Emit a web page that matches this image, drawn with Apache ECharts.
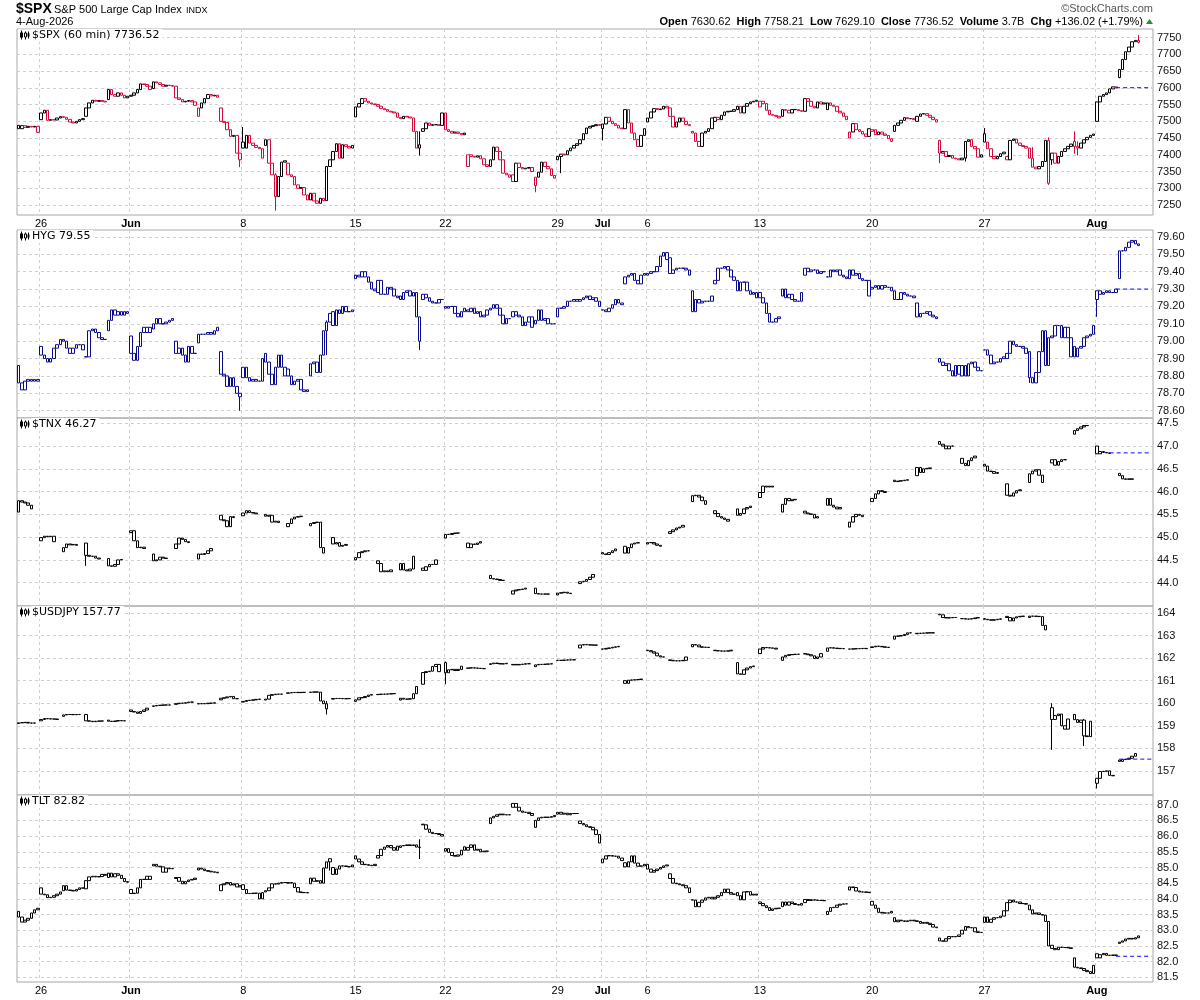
<!DOCTYPE html>
<html><head><meta charset="utf-8">
<script src="https://cdn.jsdelivr.net/npm/echarts@6/dist/echarts.min.js"></script>
<style>html,body{margin:0;padding:0;background:#fff}#c{width:1200px;height:1000px}</style>
</head><body><div id="c"></div>
<script>
// ---------- DATA ----------
const tradingDays = ['05-22','05-26','05-27','05-28','05-29','06-01','06-02','06-03','06-04','06-05','06-08','06-09','06-10','06-11','06-12','06-15','06-16','06-17','06-18','06-22','06-23','06-24','06-25','06-26','06-29','06-30','07-01','07-02','07-06','07-07','07-08','07-09','07-10','07-13','07-14','07-15','07-16','07-17','07-20','07-21','07-22','07-23','07-24','07-27','07-28','07-29','07-30','07-31','08-03','08-04'];
const barTimes = ['09:30','10:30','11:30','12:30','13:30','14:30','15:30'];
const xTickDays = ['05-26','06-01','06-08','06-15','06-22','06-29','07-01','07-06','07-13','07-20','07-27','08-03'];
const xTickLabels = ['26','Jun','8','15','22','29','Jul','6','13','20','27','Aug'];
const monthLabels = ['Jun','Jul','Aug'];

// each day: [open, close of bar1, close of bar2, ...]
const spxDays = [
[7488,7478,7487,7482,7485,7483,7485,7467],[7505,7525,7533,7503,7505,7504,7510,7514],[7514,7512,7506,7498,7495,7500,7505,7508],
[7515,7540,7555,7563,7560,7562,7560,7558],[7565,7595,7580,7575,7585,7578,7570,7575],[7575,7578,7585,7595,7612,7610,7605,7595],
[7598,7618,7615,7610,7605,7608,7607,7605],[7605,7570,7565,7558,7560,7562,7558,7548],[7515,7540,7555,7568,7580,7576,7578,7572],
[7540,7500,7497,7475,7455,7458,7405,7385],[7438,7420,7458,7435,7428,7422,7418,7390],[7428,7445,7375,7340,7275,7335,7378,7382],
[7375,7340,7335,7310,7300,7302,7280,7265],[7265,7285,7262,7255,7270,7263,7365,7385],[7385,7410,7433,7390,7430,7425,7420,7428],
[7513,7543,7553,7568,7560,7555,7552,7550],[7550,7545,7538,7535,7530,7528,7525,7512],[7512,7508,7515,7513,7510,7470,7420,7430],
[7470,7478,7495,7488,7490,7490,7488,7525],[7525,7475,7470,7465,7468,7464,7460,7465],[7365,7400,7395,7393,7397,7388,7370,7365],
[7365,7385,7423,7410,7385,7345,7340,7333],[7340,7320,7375,7362,7358,7360,7362,7350],[7308,7333,7348,7378,7365,7358,7338,7330],
[7385,7395,7402,7400,7412,7420,7428,7433],[7433,7445,7463,7480,7485,7487,7490,7488],[7478,7492,7512,7500,7493,7488,7480,7478],
[7478,7535,7495,7465,7445,7425,7458,7478],[7498,7510,7528,7538,7535,7537,7545,7540],[7540,7515,7483,7498,7510,7500,7490,7487],
[7470,7465,7440,7425,7465,7470,7478,7510],[7500,7512,7505,7518,7528,7530,7530,7535],[7535,7545,7525,7545,7553,7558,7560,7563],
[7543,7560,7553,7533,7520,7518,7515,7510],[7515,7535,7533,7525,7535,7535,7532,7530],[7530,7568,7560,7545,7540,7558,7552,7555],
[7535,7555,7548,7545,7530,7525,7515,7505],[7450,7468,7493,7475,7470,7462,7455,7478],[7470,7475,7460,7468,7462,7458,7448,7440],
[7470,7488,7495,7503,7511,7508,7508,7505],[7500,7515,7522,7523,7518,7512,7505,7498],[7443,7405,7410,7395,7398,7390,7388,7385],
[7385,7390,7440,7445,7425,7418,7393,7400],[7463,7438,7418,7395,7388,7395,7403,7408],[7395,7385,7443,7447,7435,7428,7425,7420],
[7420,7390,7363,7358,7365,7380,7443,7315],[7385,7405,7375,7395,7410,7418,7425,7432],[7440,7425,7420,7435,7445,7452,7458,7462],
[7500,7558,7575,7580,7585,7597,7603,7600.5],[7630.62,7655,7685,7708,7722,7738,7742,7736.52]];

const hygDays = [
[78.86,78.76,78.72,78.77,78.78,78.77,78.78,78.77],[78.97,78.92,78.90,78.88,78.90,78.96,78.98,79.01],[79.01,79.00,78.96,78.93,78.96,78.98,78.98,78.95],
[78.91,78.91,79.06,79.07,79.05,79.02,79.01,79.01],[79.06,79.12,79.18,79.15,79.17,79.15,79.17,79.16],[79.03,78.93,78.89,78.97,79.05,79.08,79.05,79.08],
[79.07,79.10,79.13,79.10,79.10,79.11,79.12,79.13],[79.00,78.93,78.96,78.92,78.88,78.97,78.93,78.93],[78.99,79.04,79.04,79.04,79.05,79.04,79.06,79.08],
[78.94,78.81,78.80,78.74,78.79,78.74,78.70,78.68],[78.79,78.85,78.79,78.77,78.78,78.77,78.77,78.90],[78.93,78.88,78.81,78.75,78.85,78.92,78.85,78.80],
[78.84,78.80,78.75,78.77,78.78,78.72,78.71,78.72],[78.80,78.87,78.88,78.82,78.92,79.06,79.11,79.16],[79.17,79.09,79.18,79.16,79.20,79.17,79.17,79.18],
[79.36,79.38,79.37,79.40,79.37,79.34,79.30,79.29],[79.28,79.35,79.27,79.27,79.31,79.30,79.26,79.25],[79.26,79.24,79.28,79.29,79.26,79.28,79.14,79.00],
[79.24,79.27,79.25,79.23,79.22,79.22,79.24,79.24],[79.20,79.19,79.20,79.20,79.16,79.14,79.17,79.19],[79.18,79.17,79.19,79.16,79.17,79.14,79.15,79.18],
[79.18,79.19,79.21,79.19,79.15,79.10,79.13,79.13],[79.14,79.17,79.15,79.14,79.09,79.11,79.14,79.08],[79.10,79.12,79.18,79.12,79.13,79.10,79.10,79.10],
[79.14,79.19,79.19,79.20,79.23,79.23,79.24,79.23],[79.23,79.24,79.25,79.26,79.24,79.25,79.23,79.20],[79.18,79.18,79.17,79.19,79.21,79.24,79.22,79.21],
[79.33,79.37,79.38,79.39,79.35,79.33,79.38,79.39],[79.38,79.39,79.40,79.40,79.43,79.49,79.51,79.47],[79.48,79.39,79.41,79.42,79.42,79.42,79.41,79.38],
[79.29,79.17,79.24,79.22,79.23,79.23,79.23,79.26],[79.33,79.35,79.42,79.42,79.43,79.41,79.37,79.35],[79.35,79.29,79.34,79.34,79.29,79.27,79.28,79.25],
[79.28,79.25,79.22,79.16,79.11,79.11,79.13,79.14],[79.26,79.30,79.25,79.27,79.24,79.23,79.23,79.28],[79.38,79.42,79.40,79.41,79.41,79.39,79.40,79.40],
[79.37,79.37,79.41,79.40,79.41,79.38,79.37,79.36],[79.36,79.41,79.38,79.39,79.36,79.35,79.35,79.26],[79.30,79.31,79.32,79.30,79.32,79.31,79.31,79.29],
[79.29,79.24,79.24,79.28,79.27,79.26,79.26,79.25],[79.22,79.14,79.16,79.16,79.17,79.15,79.14,79.13],[78.90,78.88,78.86,78.87,78.83,78.80,78.86,78.81],
[78.80,78.86,78.80,78.87,78.88,78.85,78.83,78.83],[78.95,78.95,78.92,78.87,78.88,78.88,78.90,78.91],[78.90,78.93,79.00,78.98,78.97,78.97,78.96,78.93],
[78.94,78.79,78.76,78.82,78.94,79.06,78.86,79.02],[79.02,79.03,79.09,79.09,79.02,79.08,79.02,78.91],[78.97,78.91,78.96,78.97,79.02,79.03,79.04,79.09],
[79.24,79.29,79.27,79.28,79.29,79.28,79.28,79.30],[79.36,79.52,79.52,79.54,79.57,79.58,79.56,79.55]];

const tnxDays = [
[45.55,45.80,45.77,45.75,45.70,45.62],[44.92,44.99,45.02,45.01,45.02,44.90],[44.68,44.77,44.85,44.83,44.84,44.82],
[44.87,44.60,44.58,44.58,44.54,44.52],[44.53,44.37,44.36,44.40,44.50,44.51],[45.10,45.14,44.92,44.77,44.78,44.75],
[44.63,44.48,44.50,44.56,44.54,44.53],[44.75,44.85,44.98,44.95,44.90,44.88],[44.52,44.63,44.62,44.64,44.70,44.75],
[45.48,45.38,45.36,45.23,45.45,45.43],[45.47,45.53,45.58,45.54,45.53,45.51],[45.50,45.46,45.48,45.33,45.35,45.32],
[45.23,45.30,45.40,45.44,45.45,45.46],[45.25,45.30,45.32,45.33,44.77,44.65],[44.99,44.85,44.88,44.80,44.82,44.84],
[44.50,44.55,44.66,44.68,44.70,44.70],[44.48,44.42,44.24,44.26,44.24,44.28],[44.28,44.42,44.28,44.26,44.30,44.58],
[44.32,44.27,44.35,44.40,44.40,44.50],[44.98,45.06,45.06,45.08,45.09,45.09],[44.87,44.77,44.85,44.84,44.87,44.90],
[44.16,44.09,44.08,44.07,44.05,44.05],[43.75,43.82,43.84,43.85,43.86,43.88],[43.88,43.76,43.75,43.75,43.75,43.75],
[43.73,43.77,43.78,43.79,43.77,43.76],[43.98,44.02,44.03,44.07,44.12,44.18],[44.66,44.63,44.62,44.66,44.70,44.74],
[44.80,44.65,44.77,44.85,44.87,44.88],[44.85,44.88,44.88,44.85,44.82,44.80],[45.08,45.12,45.16,45.20,45.22,45.26],
[45.78,45.91,45.92,45.88,45.80,45.72],[45.58,45.52,45.45,45.42,45.39,45.35],[45.62,45.48,45.52,45.62,45.65,45.68],
[45.87,45.98,46.12,46.10,46.12,46.10],[45.55,45.72,45.85,45.80,45.82,45.83],[45.57,45.53,45.51,45.50,45.42,45.45],
[45.70,45.85,45.70,45.66,45.62,45.65],[45.22,45.33,45.45,45.50,45.48,45.45],[45.78,45.85,45.95,46.02,46.00,45.98],
[46.25,46.22,46.23,46.24,46.25,46.26],[46.35,46.53,46.42,46.50,46.51,46.52],[47.10,47.04,47.00,46.94,47.00,47.00],
[46.73,46.62,46.57,46.68,46.74,46.78],[46.60,46.56,46.45,46.44,46.40,46.42],[46.17,45.92,45.90,45.97,46.02,46.04],
[46.20,46.39,46.45,46.48,46.36,46.20],[46.63,46.70,46.58,46.66,46.70,46.70],[47.26,47.34,47.38,47.42,47.45,47.45],
[47.00,46.83,46.88,46.86,46.85,46.84],[46.40,46.35,46.28,46.27,46.28,46.27]];

const usdjpyDays = [
[159.10,159.13,159.14,159.15,159.12,159.12,159.12],[159.22,159.28,159.32,159.31,159.30,159.30,159.28],[159.42,159.48,159.50,159.50,159.49,159.50,159.50],
[159.50,159.22,159.20,159.18,159.20,159.21,159.21],[159.25,159.20,159.19,159.21,159.23,159.22,159.22],[159.70,159.63,159.61,159.55,159.63,159.70,159.78],
[159.86,159.88,159.90,159.91,159.92,159.92,159.92],[159.95,159.98,160.00,160.00,160.02,160.05,160.05],[159.97,159.98,159.98,159.98,160.00,160.00,160.02],
[160.15,160.22,160.24,160.28,160.30,160.20,160.20],[160.05,160.08,160.12,160.13,160.15,160.17,160.18],[160.14,160.18,160.35,160.38,160.40,160.40,160.40],
[160.44,160.46,160.47,160.48,160.47,160.48,160.48],[160.48,160.49,160.50,160.49,160.10,159.98,159.75],[160.18,160.21,160.21,160.21,160.20,160.20,160.21],
[160.08,160.15,160.24,160.25,160.30,160.36,160.38],[160.38,160.39,160.40,160.40,160.41,160.42,160.43],[160.14,160.22,160.18,160.18,160.20,160.42,160.74],
[160.84,161.36,161.40,161.42,161.63,161.72,161.40],[161.80,161.35,161.48,161.50,161.45,161.50,161.64],[161.55,161.56,161.57,161.56,161.55,161.54,161.53],
[161.72,161.75,161.78,161.76,161.74,161.75,161.77],[161.70,161.72,161.70,161.72,161.73,161.75,161.75],[161.62,161.70,161.72,161.72,161.73,161.74,161.75],
[161.90,161.90,161.90,161.91,161.92,161.92,161.93],[162.45,162.58,162.60,162.59,162.58,162.58,162.57],[162.40,162.40,162.43,162.45,162.48,162.50,162.52],
[161.00,160.88,161.02,161.03,161.04,161.05,161.07],[162.35,162.33,162.28,162.22,162.10,162.05,162.05],[161.92,161.90,161.88,161.88,161.88,161.90,162.05],
[162.50,162.60,162.58,162.50,162.48,162.48,162.47],[162.35,162.33,162.32,162.31,162.31,162.32,162.35],[161.80,161.30,161.28,161.48,161.56,161.62,161.65],
[162.20,162.40,162.47,162.46,162.45,162.44,162.40],[161.90,162.05,162.12,162.15,162.16,162.17,162.17],[162.20,162.18,162.15,162.10,161.98,162.05,162.20],
[162.30,162.45,162.46,162.44,162.43,162.42,162.42],[162.40,162.40,162.41,162.42,162.42,162.43,162.42],[162.47,162.50,162.53,162.52,162.50,162.48,162.47],
[162.84,162.97,162.98,163.00,163.05,163.12,163.12],[163.08,163.10,163.10,163.11,163.12,163.12,163.12],[163.95,163.92,163.80,163.78,163.79,163.80,163.80],
[163.75,163.75,163.73,163.73,163.75,163.78,163.80],[163.75,163.72,163.70,163.68,163.70,163.72,163.74],[163.85,163.80,163.65,163.78,163.83,163.85,163.86],
[163.80,163.86,163.86,163.85,163.84,163.45,163.25],[159.80,159.28,159.45,159.52,159.00,158.85,159.30],[159.50,159.27,159.15,159.25,158.55,158.52,159.20],
[156.45,156.67,156.97,156.98,157.00,156.80,156.78],[157.48,157.42,157.50,157.52,157.56,157.65,157.77]];

const tltDays = [
[83.60,83.42,83.26,83.32,83.38,83.55,83.65,83.70],[84.35,84.15,84.13,84.04,84.05,84.10,84.15,84.22],[84.26,84.42,84.28,84.27,84.25,84.30,84.35,84.34],
[84.32,84.58,84.70,84.72,84.70,84.71,84.78,84.75],[84.68,84.82,84.70,84.80,84.75,84.65,84.55,84.53],[84.30,84.17,84.18,84.35,84.62,84.62,84.72,84.62],
[85.05,85.10,85.04,85.02,84.85,84.98,84.96,84.97],[84.65,84.68,84.56,84.48,84.55,84.60,84.62,84.66],[84.92,84.98,84.95,84.90,84.88,84.86,84.85,84.83],
[84.26,84.45,84.48,84.52,84.44,84.48,84.38,84.42],[84.45,84.30,84.17,84.17,84.18,84.18,84.00,84.20],[84.22,84.26,84.35,84.48,84.47,84.50,84.52,84.52],
[84.50,84.52,84.50,84.36,84.22,84.20,84.20,84.19],[84.48,84.66,84.56,84.58,84.50,84.98,85.18,85.28],[85.00,84.78,84.95,85.05,85.05,85.03,85.02,85.08],
[85.37,85.27,85.18,85.10,85.09,85.07,85.06,85.10],[85.30,85.38,85.58,85.65,85.70,85.63,85.55,85.68],[85.64,85.69,85.70,85.72,85.70,85.72,85.65,85.64],
[86.38,86.36,86.22,86.12,86.08,86.08,86.05,86.00],[85.52,85.60,85.48,85.38,85.36,85.40,85.55,85.66],[85.55,85.64,85.72,85.55,85.58,85.50,85.52,85.52],
[86.40,86.58,86.63,86.68,86.70,86.68,86.68,86.68],[86.92,87.04,86.92,86.80,86.76,86.76,86.72,86.66],[86.28,86.50,86.58,86.60,86.60,86.60,86.62,86.66],
[86.70,86.76,86.70,86.73,86.68,86.72,86.72,86.72],[86.48,86.40,86.36,86.30,86.28,86.20,86.05,85.78],[85.15,85.27,85.37,85.38,85.36,85.36,85.30,85.22],
[85.15,85.02,85.18,85.37,85.14,85.04,85.05,85.10],[85.10,84.95,84.85,84.90,84.95,85.00,85.05,85.08],[84.80,84.65,84.50,84.48,84.45,84.42,84.35,84.20],
[83.97,83.96,83.75,83.89,83.96,84.03,84.05,84.00],[84.00,84.05,84.10,84.20,84.31,84.20,84.15,84.15],[84.20,84.10,83.97,84.22,84.23,84.12,84.15,84.12],
[83.90,83.85,83.78,83.72,83.63,83.68,83.70,83.70],[83.75,83.90,83.80,83.90,83.85,83.82,83.80,83.85],[83.88,83.98,83.95,83.97,83.96,83.95,83.95,83.94],
[83.50,83.60,83.72,83.73,83.80,83.83,83.84,83.84],[84.28,84.38,84.36,84.25,84.22,84.22,84.21,84.20],[83.92,83.80,83.70,83.57,83.55,83.55,83.55,83.60],
[83.40,83.27,83.32,83.30,83.28,83.30,83.32,83.30],[83.30,83.28,83.22,83.25,83.22,83.18,83.10,83.08],[82.75,82.66,82.65,82.73,82.80,82.79,82.80,82.85],
[82.88,83.00,83.12,83.08,83.08,82.95,82.93,82.93],[83.25,83.42,83.25,83.35,83.40,83.40,83.45,83.62],[83.62,83.88,83.96,83.90,83.90,83.85,83.85,83.83],
[83.80,83.65,83.52,83.55,83.50,83.48,83.28,82.50],[82.52,82.42,82.38,82.46,82.45,82.45,82.44,82.42],[82.12,81.82,81.80,81.78,81.72,81.68,81.62,81.88],
[82.25,82.12,82.22,82.26,82.20,82.20,82.21,82.20],[82.58,82.62,82.66,82.72,82.74,82.72,82.76,82.82]];

// notable wicks: [dayIndex, barIndex, low, high]
const spxWicks = [[9,6,7363,7405],[10,0,7438,7483],[11,3,7233,7345],[17,6,7398,7470],[23,0,7288,7333],[24,1,7345,7395],[26,0,7443,7492],[45,6,7310,7452],[47,1,7398,7440],[49,6,7733,7758.21],[49,0,7629.10,7655],[41,0,7375,7445],[42,1,7380,7395],[43,0,7438,7480],[45,1,7380,7423],[47,0,7403,7470],[46,0,7370,7405]];
const hygWicks = [[9,6,78.60,78.70],[17,6,78.95,79.14],[45,0,78.76,78.94],[48,0,79.14,79.29],[13,5,78.92,79.12]];
const tnxWicks = [[13,5,44.54,44.77],[17,5,44.30,44.78],[3,0,44.37,44.87],[45,5,46.08,46.36]];
const usdjpyWicks = [[46,0,157.93,160.00],[13,5,159.50,160.10],[19,0,160.84,161.85],[47,3,158.10,159.30],[48,0,156.22,156.67]];
const tltWicks = [[17,6,85.27,85.90],[13,6,84.90,85.28]];

const spxTicks = [7250,7300,7350,7400,7450,7500,7550,7600,7650,7700,7750];
const hygTicks = [78.6,78.7,78.8,78.9,79.0,79.1,79.2,79.3,79.4,79.5,79.6];
const tnxTicks = [44.0,44.5,45.0,45.5,46.0,46.5,47.0,47.5];
const usdjpyTicks = [157,158,159,160,161,162,163,164];
const tltTicks = [81.5,82.0,82.5,83.0,83.5,84.0,84.5,85.0,85.5,86.0,86.5,87.0];

const prevClose = [7600.50, 79.30, 46.85, 157.52, 82.17];
const prevCloseFrom = ['08-03 15:30','08-03 15:30','08-03 13:30','08-04 09:30','08-03 15:30'];
const lastValues = ['7736.52','79.55','46.27','157.77','82.82'];
const panelNames = ['$SPX (60 min)','HYG','$TNX','$USDJPY','TLT'];

// ---------- BUILD ----------
const YEAR = '2026-';
const cats = [];
tradingDays.forEach(d => barTimes.forEach(t => cats.push(YEAR + d + ' ' + t)));
['pad1','pad2','pad3','pad4'].forEach(p => cats.push(p));
const tickCats = new Set(xTickDays.map(d => YEAR + d + ' ' + barTimes[0]));

function buildBars(days, wicks) {
  const out = [];
  days.forEach(d => {
    let prev = d[0];
    for (let k = 0; k < barTimes.length; k++) {
      if (k < d.length - 1) {
        const c = d[k + 1];
        out.push([prev, c, Math.min(prev, c), Math.max(prev, c)]);
        prev = c;
      } else out.push(null);
    }
  });
  while (out.length < cats.length) out.push(null);
  wicks.forEach(w => {
    const b = out[w[0] * barTimes.length + w[1]];
    if (b) { b[2] = Math.min(b[2], w[2]); b[3] = Math.max(b[3], w[3]); }
  });
  return out;
}

const RED = '#d20a3c', NAVY = '#0a0a8e', BLK = '#000', PCLINE = '#0a0aff';
function styleItems(bars, mode, col) {
  let pc = null;
  return bars.map(b => {
    if (!b) return '-';
    let c = col;
    if (mode === 'spx') { c = (pc === null || b[1] >= pc) ? BLK : RED; }
    pc = b[1];
    return { value: b, itemStyle: { color: '#fff', color0: c, borderColor: c, borderColor0: c, borderColorDoji: c } };
  });
}

const panels = [
  { days: spxDays, wicks: spxWicks, ticks: spxTicks, min: 7220, max: 7776, dec: 0, mode: 'spx', col: BLK },
  { days: hygDays, wicks: hygWicks, ticks: hygTicks, min: 78.558, max: 79.640, dec: 2, mode: 'one', col: NAVY },
  { days: tnxDays, wicks: tnxWicks, ticks: tnxTicks, min: 43.488, max: 47.616, dec: 1, mode: 'one', col: BLK },
  { days: usdjpyDays, wicks: usdjpyWicks, ticks: usdjpyTicks, min: 155.93, max: 164.31, dec: 0, mode: 'one', col: BLK },
  { days: tltDays, wicks: tltWicks, ticks: tltTicks, min: 81.35, max: 87.31, dec: 1, mode: 'one', col: BLK }
];
const gridBoxes = [[29, 186], [230, 188], [418, 188], [606, 189], [795, 187]];
const FONT = '"Liberation Sans", Arial, sans-serif';
const GRIDC = '#d0d0d0';
const showTick = (idx) => tickCats.has(cats[idx]);
const xFmt = v => { const lab = xTickLabels[xTickDays.indexOf(v.slice(5, 10))]; return monthLabels.includes(lab) ? '{m|' + lab + '}' : lab; };

const candleSeries = panels.map((p, i) => ({
  type: 'candlestick', xAxisIndex: i, yAxisIndex: i,
  barWidth: 3, barMinWidth: 3, barMaxWidth: 3, large: false,
  data: styleItems(buildBars(p.days, p.wicks), p.mode, p.col),
  itemStyle: { borderWidth: 1, color: '#fff', color0: p.col, borderColor: p.col, borderColor0: p.col }
}));
const prevSeries = panels.map((p, i) => ({
  type: 'line', xAxisIndex: i, yAxisIndex: i, symbol: 'none', silent: true, z: 3,
  data: [[YEAR + prevCloseFrom[i], prevClose[i]], [cats[cats.length - 1], prevClose[i]]],
  lineStyle: { color: PCLINE, type: [4, 3], width: 1 }, itemStyle: { color: PCLINE }
}));

const option = {
  animation: false,
  backgroundColor: '#fff',
  grid: gridBoxes.map(g => ({ left: 17, width: 1136, top: g[0], height: g[1], show: true, borderColor: '#a8a8a8', borderWidth: 1 })),
  xAxis: panels.map((p, i) => ({
    type: 'category', gridIndex: i, data: cats, boundaryGap: true,
    axisLine: { show: false }, axisTick: { show: false },
    splitLine: { show: true, interval: showTick, lineStyle: { color: GRIDC, type: [3, 3], width: 1 } },
    axisLabel: {
      show: i === 0 || i === 4, interval: showTick, margin: 3,
      fontFamily: FONT, fontSize: 11, color: '#000', formatter: xFmt,
      rich: { m: { fontWeight: 'bold', fontFamily: FONT, fontSize: 11, color: '#000' } }
    }
  })),
  yAxis: panels.map((p, i) => ({
    type: 'value', gridIndex: i, position: 'right', min: p.min, max: p.max, scale: true,
    axisLine: { show: false },
    axisTick: { show: false, customValues: p.ticks },
    splitLine: { show: true, lineStyle: { color: GRIDC, type: [3, 3], width: 1 } },
    axisLabel: { customValues: p.ticks, margin: 4, fontFamily: FONT, fontSize: 11, color: '#111', formatter: v => v.toFixed(p.dec) }
  })),
  series: candleSeries.concat(prevSeries),
  graphic: [
    { type: 'text', x: 16, y: 9, style: { text: '$SPX', font: 'bold 14px ' + FONT, fill: '#000', verticalAlign: 'middle' } },
    { type: 'text', x: 54, y: 10, style: { text: 'S&P 500 Large Cap Index', font: '11px ' + FONT, fill: '#000', verticalAlign: 'middle' } },
    { type: 'text', x: 186, y: 10.5, style: { text: 'INDX', font: '9px ' + FONT, fill: '#000', verticalAlign: 'middle' } },
    { type: 'text', x: 16, y: 22, style: { text: '4-Aug-2026', font: '11px ' + FONT, fill: '#000', verticalAlign: 'middle' } },
    { type: 'text', x: 1153, y: 9, style: { text: '\u00A9StockCharts.com', font: '11px ' + FONT, fill: '#555', align: 'right', verticalAlign: 'middle' } },
    { type: 'text', x: 1143, y: 22, style: {
      text: '{b|Open} 7630.62  {b|High} 7758.21  {b|Low} 7629.10  {b|Close} 7736.52  {b|Volume} 3.7B  {b|Chg} +136.02 (+1.79%)',
      font: '11px ' + FONT, fill: '#000', align: 'right', verticalAlign: 'middle',
      rich: { b: { font: 'bold 11px ' + FONT, fill: '#000' } } } },
    { type: 'polygon', shape: { points: [[1146, 24], [1153, 24], [1149.5, 19]] }, style: { fill: '#2e8b2e' } }
  ].concat(...gridBoxes.map((g, i) => {
    const y = g[0] + 6.5;
    return [
      { type: 'rect', z: 9, shape: { x: 18, y: y - 6, width: 13, height: 12 }, style: { fill: '#fff' } },
      { type: 'text', x: 31, y: y, z: 10, style: { text: panelNames[i] + ' ' + lastValues[i], font: '11px "DejaVu Sans", sans-serif', fill: '#000', verticalAlign: 'middle', backgroundColor: '#fff', padding: [1, 3, 1, 1] } },
      { type: 'line', z: 11, shape: { x1: 21.5, y1: y - 5, x2: 21.5, y2: y + 4 }, style: { stroke: '#000', lineWidth: 1 } },
      { type: 'rect', z: 11, shape: { x: 20, y: y - 3, width: 3, height: 5 }, style: { fill: '#000' } },
      { type: 'line', z: 11, shape: { x1: 25.5, y1: y - 4, x2: 25.5, y2: y + 4 }, style: { stroke: '#000', lineWidth: 1 } },
      { type: 'rect', z: 11, shape: { x: 24.5, y: y - 2.5, width: 2, height: 4 }, style: { fill: '#fff', stroke: '#000', lineWidth: 1 } },
      { type: 'line', z: 11, shape: { x1: 28.5, y1: y - 4, x2: 28.5, y2: y + 3 }, style: { stroke: '#000', lineWidth: 1 } },
      { type: 'rect', z: 11, shape: { x: 27.5, y: y - 2, width: 2, height: 3 }, style: { fill: '#000' } }
    ];
  }))
};

const chart = echarts.init(document.getElementById('c'), null, { renderer: 'canvas' });
chart.setOption(option);
</script></body></html>
